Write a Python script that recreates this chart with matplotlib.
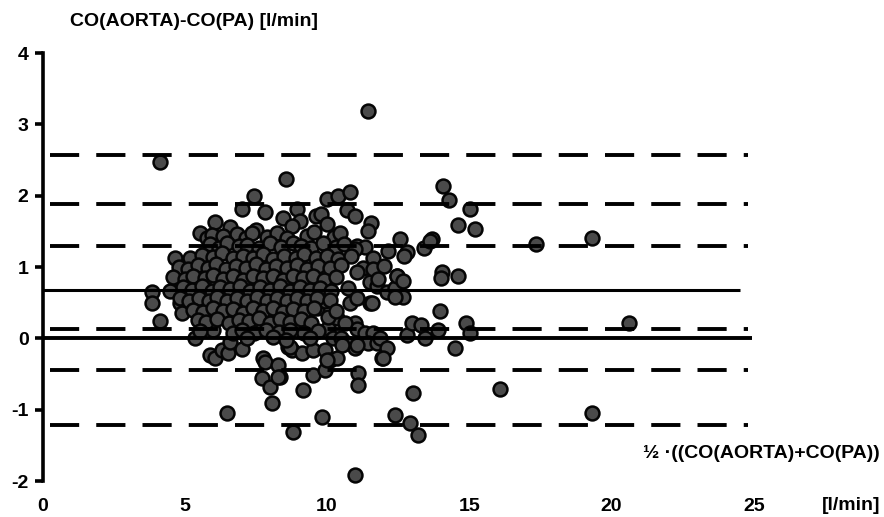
import matplotlib
matplotlib.use("Agg")
import matplotlib.pyplot as plt

# ---------------- data ----------------
x_ticks = [0, 5, 10, 15, 20, 25]
y_ticks = [-2, -1, 0, 1, 2, 3, 4]
mean_level = 0.68
zero_level = 0.0
dashed_levels = [2.57, 1.88, 1.30, 0.13, -0.45, -1.22]

# sparse / outer points
x_outer = [4.13, 11.45, 8.55, 7.45, 10.0, 10.4, 10.82, 7.0, 7.82, 8.95, 10.72, 11.0,
           14.08, 14.3, 6.07, 6.6, 5.54, 5.77, 7.5, 8.47, 9.05, 9.6, 9.8, 10.0,
           11.55, 11.45, 12.56, 13.68, 13.4, 12.8, 12.15, 8.77, 11.05, 11.33, 11.6,
           12.45, 12.7, 4.66]
y_outer = [2.47, 3.19, 2.23, 1.99, 1.96, 1.99, 2.05, 1.81, 1.77, 1.82, 1.80, 1.71,
           2.14, 1.94, 1.63, 1.56, 1.47, 1.41, 1.52, 1.69, 1.65, 1.71, 1.75, 1.60,
           1.62, 1.51, 1.39, 1.39, 1.26, 1.21, 1.22, 1.58, 1.30, 1.28, 1.12,
           0.88, 1.16, 1.12]

x_right = [17.35, 19.33, 15.03, 15.2, 14.6, 14.04, 14.6, 13.97, 14.9, 15.03, 14.5,
           16.08, 20.6, 19.3, 13.9, 13.63, 14.0]
y_right = [1.32, 1.40, 1.81, 1.53, 1.59, 0.93, 0.88, 0.39, 0.22, 0.07, -0.14,
           -0.71, 0.22, -1.04, 0.11, 1.37, 0.84]

x_left = [3.85, 3.85, 4.13, 4.48, 4.66, 5.0, 4.83, 4.9, 4.73]
y_left = [0.65, 0.49, 0.25, 0.67, 0.86, 0.81, 0.50, 0.35, 0.86]

x_low = [5.36, 5.6, 5.89, 6.06, 6.0, 6.3, 6.52, 6.59, 7.0, 6.47, 7.76, 7.82, 7.7,
         8.0, 8.05, 8.28, 8.35, 8.8, 8.64, 8.78, 9.17, 9.11, 9.52, 9.52, 9.81,
         9.93, 10.1, 9.93, 10.34, 10.05, 10.2, 10.5, 10.7, 11.0, 11.0, 11.1, 11.1,
         11.0, 11.05, 11.33, 11.6, 11.45, 11.75, 11.87, 11.92, 12.1, 12.39, 12.8,
         12.98, 13.3, 13.44, 13.03, 12.92, 13.2, 8.7, 10.52, 11.04, 10.35, 10.65,
         10.0, 9.65, 9.93, 10.03, 11.97, 8.28]
y_low = [0.00, 0.22, -0.24, -0.27, 0.11, -0.17, -0.21, -0.05, -0.15, -1.05, -0.28,
         -0.33, -0.56, -0.68, -0.91, -0.38, -0.54, -1.32, -0.12, -0.17, -0.73,
         -0.21, -0.17, -0.52, -1.10, -0.17, -0.31, -0.45, -0.27, 0.14, 0.01, 0.01,
         -0.07, -0.14, -1.92, -0.49, -0.66, 0.21, 0.13, 0.07, 0.08, -0.06, -0.07,
         0.00, -0.27, -0.14, -1.08, 0.04, 0.22, 0.18, 0.00, -0.76, -1.19, -1.36,
         -0.12, -0.10, -0.10, 0.28, 0.22, -0.30, 0.42, 0.53, 0.30, -0.28, -0.54]

x_mid = [11.5, 10.75, 10.8, 11.05, 11.5, 11.75, 12.1, 12.4, 12.45, 12.68, 12.68,
         12.4, 11.27, 11.05, 11.57]
y_mid = [0.50, 0.70, 0.50, 0.56, 0.79, 0.74, 0.65, 0.70, 0.88, 0.81, 0.58,
         0.58, 0.98, 0.93, 0.50]

x_core = [5.95, 6.35, 6.85, 7.15, 7.35, 7.9, 8.25, 8.6, 9.3, 9.55, 10.25, 10.45,
          5.9, 6.2, 6.5, 6.9, 7.2, 7.6, 8.0, 8.4, 8.8, 9.1, 9.45, 9.85, 10.3, 10.6, 11.0,
          5.2, 5.6, 6.0, 6.3, 6.7, 7.05, 7.4, 7.75, 8.1, 8.5, 8.9, 9.2, 9.6, 10.0, 10.4, 10.85,
          4.8, 5.1, 5.45, 5.8, 6.1, 6.45, 6.8, 7.15, 7.5, 7.85, 8.2, 8.6, 8.95, 9.3, 9.7,
          10.1, 10.5, 11.6, 12.0,
          4.6, 5.0, 5.3, 5.7, 6.0, 6.35, 6.7, 7.05, 7.4, 7.75, 8.1, 8.45, 8.8, 9.15,
          9.5, 9.9, 10.3, 11.8,
          4.95, 5.25, 5.6, 5.95, 6.25, 6.6, 6.95, 7.3, 7.65, 8.0, 8.35, 8.7, 9.05, 9.4,
          9.75, 10.15,
          4.85, 5.15, 5.5, 5.85, 6.15, 6.5, 6.85, 7.2, 7.55, 7.9, 8.25, 8.6, 8.95, 9.3,
          9.65, 10.1,
          5.3, 5.65, 6.0, 6.35, 6.7, 7.05, 7.4, 7.75, 8.1, 8.45, 8.8, 9.2, 9.55, 10.3,
          5.45, 5.75, 6.15, 6.55, 6.9, 7.25, 7.6, 8.0, 8.35, 8.7, 9.1, 9.45,
          5.55, 6.7, 7.0, 7.45, 7.85, 8.3, 8.7, 9.2, 9.7,
          7.2, 8.1, 8.55, 9.4]
y_core = [1.45, 1.43, 1.46, 1.40, 1.48, 1.42, 1.47, 1.41, 1.44, 1.49, 1.42, 1.47,
          1.32, 1.27, 1.33, 1.29, 1.31, 1.27, 1.34, 1.28, 1.33, 1.30, 1.26, 1.34, 1.28, 1.32, 1.25,
          1.12, 1.17, 1.14, 1.19, 1.12, 1.16, 1.13, 1.18, 1.11, 1.16, 1.13, 1.18, 1.12, 1.16, 1.11, 1.15,
          1.00, 0.97, 1.03, 0.98, 1.04, 0.97, 1.02, 0.99, 1.04, 0.97, 1.02, 0.98, 1.03, 0.97, 1.02,
          0.98, 1.03, 0.97, 1.01,
          0.86, 0.83, 0.88, 0.84, 0.89, 0.83, 0.87, 0.82, 0.88, 0.84, 0.87, 0.82, 0.88, 0.84,
          0.87, 0.82, 0.86, 0.83,
          0.72, 0.68, 0.73, 0.67, 0.72, 0.69, 0.74, 0.67, 0.72, 0.68, 0.73, 0.67, 0.72, 0.68,
          0.71, 0.66,
          0.56, 0.52, 0.57, 0.53, 0.58, 0.52, 0.56, 0.53, 0.58, 0.52, 0.57, 0.53, 0.57, 0.52,
          0.56, 0.54,
          0.40, 0.37, 0.42, 0.38, 0.41, 0.36, 0.42, 0.39, 0.43, 0.37, 0.41, 0.38, 0.42, 0.39,
          0.26, 0.23, 0.27, 0.22, 0.26, 0.24, 0.28, 0.22, 0.27, 0.23, 0.27, 0.22,
          0.10, 0.08, 0.12, 0.07, 0.12, 0.09, 0.12, 0.07, 0.10,
          0.00, 0.02, -0.03, 0.01]

y_label = "CO(AORTA)-CO(PA) [l/min]"
x_label = "½ ·((CO(AORTA)+CO(PA))"
x_unit = "[l/min]"

# ---------------- figure ----------------
plt.rcParams['font.family'] = ['Liberation Sans', 'DejaVu Sans']
plt.rcParams['font.weight'] = 'bold'
plt.rcParams['lines.scale_dashes'] = False

W, H = 884, 517
fig = plt.figure(figsize=(W / 100, H / 100), dpi=100)
x0_px, px_per_x = 42.5, 28.45
xmax = 29.5
ax = fig.add_axes([x0_px / W, (H - 481) / H, xmax * px_per_x / W, 428 / H])
ax.set_xlim(0, xmax)
ax.set_ylim(-2, 4)

xs = x_outer + x_right + x_left + x_low + x_mid + x_core
ys = y_outer + y_right + y_left + y_low + y_mid + y_core
ax.scatter(xs, ys, s=100, facecolor='#4a4a4a', edgecolor='#050505',
           linewidth=1.8, zorder=2, clip_on=False)

for lv in dashed_levels:
    ax.plot([0.26, 24.8], [lv, lv], color='black', lw=2.8,
            linestyle=(0, (21.0, 12.3)), solid_capstyle='butt',
            dash_capstyle='butt', zorder=3)
ax.plot([0, 24.5], [mean_level, mean_level], color='black', lw=2.2, zorder=3,
        solid_capstyle='butt')
ax.plot([0, 24.95], [zero_level, zero_level], color='black', lw=2.8, zorder=3,
        solid_capstyle='butt')

for s in ['top', 'right', 'bottom']:
    ax.spines[s].set_visible(False)
ax.spines['left'].set_linewidth(2.6)
ax.spines['left'].set_bounds(-2, 4)

ax.set_yticks(y_ticks)
ax.set_yticklabels([str(v) for v in y_ticks])
ax.set_xticks(x_ticks)
ax.set_xticklabels([str(v) for v in x_ticks])
ax.tick_params(axis='y', direction='out', length=6, width=2.6, pad=4,
               labelsize=14)
ax.tick_params(axis='x', length=0, pad=12, labelsize=14)
for lab in ax.get_xticklabels() + ax.get_yticklabels():
    lab.set_fontweight('bold')

fig.text(70 / W, 1 - 22 / H, y_label, ha='left', va='center', fontsize=14,
         fontweight='bold')
fig.text(880 / W, 1 - 454 / H, x_label, ha='right', va='center', fontsize=14,
         fontweight='bold')
fig.text(880 / W, 1 - 506 / H, x_unit, ha='right', va='center', fontsize=14,
         fontweight='bold')

fig.savefig('out.png', dpi=100)
